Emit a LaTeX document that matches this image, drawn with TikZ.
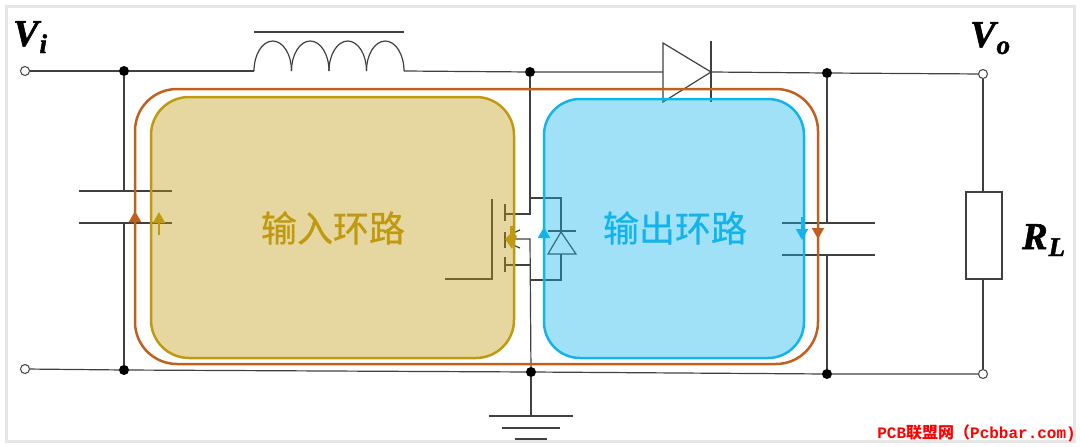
\documentclass[tikz,border=0pt]{standalone}
\usepackage{xcolor}
\usepackage{fontspec}
\setmainfont{Liberation Serif}[BoldItalicFeatures={FakeBold=1.6}]
\setmonofont{Liberation Mono}
\newfontfamily\cjk{Noto Sans CJK SC}
\newfontfamily\cjkbig{Noto Sans CJK SC}[FakeBold=0.7]
\usepackage{tikz}
\usetikzlibrary{arrows.meta}
\definecolor{wire}{HTML}{404040}
\definecolor{card}{HTML}{E6E6E6}
\definecolor{gold}{HTML}{BF9A10}
\definecolor{rust}{HTML}{C0601F}
\definecolor{sky}{HTML}{14B4EA}
\definecolor{mark}{HTML}{FF0000}
\tikzset{
  wireLine/.style={line width=1.2pt, draw=wire},
  term/.style={circle, draw=wire, fill=white, line width=1pt, minimum size=9pt, inner sep=0pt},
  dot/.style={circle, fill=black, minimum size=10pt, inner sep=0pt},
  volt/.style={font=\fontsize{38}{38}\selectfont\bfseries\itshape, text=black, inner sep=0pt},
  loopLab/.style={font=\fontsize{36}{36}\selectfont\cjkbig, inner sep=0pt},
  goldFill/.style={fill=gold, fill opacity=0.4, draw=gold, line width=2.5pt, rounded corners=38pt},
  skyFill/.style={fill=sky, fill opacity=0.4, draw=sky, line width=2.5pt, rounded corners=36pt},
  flow/.style={line width=2pt, -{Triangle[width=12pt,length=11pt]}}
}
\newcommand{\subtxt}[1]{\kern1pt\raisebox{-7pt}{\fontsize{27}{27}\selectfont #1}}
\begin{document}
\begin{tikzpicture}[x=1pt,y=-1pt]
  \useasboundingbox (0,0) rectangle (1080,447);
  % Card
  \draw[card, line width=3pt] (6,6) rectangle (1074,441);

  % Terminals and junctions
  \node[term] (vi) at (25,71) {};
  \node[term] (gi) at (25,369) {};
  \node[term] (vo) at (983,74) {};
  \node[term] (go) at (983,374) {};
  \node[dot] (jTa) at (124,71) {};
  \node[dot] (jTb) at (530,72) {};
  \node[dot] (jTc) at (827,73) {};
  \node[dot] (jBa) at (124,370) {};
  \node[dot] (jBb) at (531,372) {};
  \node[dot] (jBc) at (827,374) {};
  \coordinate (indL) at (254,71);
  \coordinate (indR) at (404,71);
  \coordinate (dioL) at (663,72);
  \coordinate (dioR) at (711,72);
  \coordinate (capLa) at (124,191);
  \coordinate (capLb) at (124,223);
  \coordinate (capRa) at (827,223);
  \coordinate (capRb) at (827,255);
  \coordinate (resT) at (983,192);
  \coordinate (resB) at (983,279);
  \coordinate (gnd) at (531,416);

  % Rails
  \draw[wireLine] (vi) -- (jTa) -- (indL);
  \draw[wireLine] (indR) -- (jTb) -- (dioL);
  \draw[wireLine] (dioR) -- (jTc) -- (vo);
  \draw[wireLine] (gi) -- (jBa) -- (jBb) -- (jBc) -- (go);
  \draw[wireLine] (jBb) -- (gnd);

  % Inductor
  \foreach \i in {0,...,3}
    \draw[wireLine] (254+37.5*\i,71) arc[start angle=180, end angle=360, x radius=18.75, y radius=30];
  \draw[wireLine] (254,32) -- (404,32);

  % Diode
  \draw[wireLine] (663,43) -- (711,72) -- (663,102) -- cycle;
  \draw[wireLine] (711,41) -- (711,102);

  % Input capacitor
  \draw[wireLine] (jTa) -- (capLa);
  \draw[wireLine] (capLb) -- (jBa);
  \draw[wireLine] (79,191) -- (172,191);
  \draw[wireLine] (79,223) -- (172,223);

  % Output capacitor
  \draw[wireLine] (jTc) -- (capRa);
  \draw[wireLine] (capRb) -- (jBc);
  \draw[wireLine] (782,223) -- (875,223);
  \draw[wireLine] (782,255) -- (875,255);

  % Load
  \draw[wireLine] (vo) -- (resT);
  \draw[wireLine] (resB) -- (go);
  \draw[wireLine, fill=white] (966,192) rectangle (1002,279);

  % Ground
  \draw[wireLine] (489,416) -- (573,416);
  \draw[wireLine] (502,428) -- (560,428);
  \draw[wireLine] (515,439) -- (547,439);

  % MOSFET
  \draw[wireLine] (445,279) -- (492,279) -- (492,199);
  \draw[wireLine] (505,204) -- (505,221);
  \draw[wireLine] (505,232) -- (505,248);
  \draw[wireLine] (505,257) -- (505,272);
  \draw[wireLine] (505,214) -- (530,214) -- (jTb);
  \draw[wireLine] (505,239) -- (530,239) -- (jBb);
  \draw[wireLine] (505,265) -- (530,265);
  \draw[wireLine] (520,230) -- (513,233);
  \draw[wireLine] (520,248) -- (513,245);

  % Body diode
  \draw[wireLine] (530,198) -- (561,198) -- (561,232);
  \draw[wireLine] (548,231) -- (576,231);
  \draw[wireLine] (561,232) -- (548,254) -- (576,254) -- cycle;
  \draw[wireLine] (561,254) -- (561,280) -- (531,280);

  % Loops
  \draw[draw=rust, line width=2.5pt, rounded corners=42pt] (135,89) rectangle (818,364);
  \draw[goldFill] (151,97) rectangle (514,358);
  \draw[skyFill] (544,99) rectangle (804,358);
  \node[loopLab, text=gold] (inLab) at (333,228) {输入环路};
  \node[loopLab, text=sky] (outLab) at (675,228) {输出环路};

  % Arrows
  \draw[flow, rust] (135,224) -- (135,211);
  \draw[flow, gold] (159,235) -- (159,212);
  \draw[flow, sky] (544,241) -- (544,227);
  \draw[flow, sky] (802,217) -- (802,240);
  \draw[flow, rust] (818,222) -- (818,239);
  \fill[gold] (505,239) -- (510,234) -- (510,226) -- (513,226) -- (514,234) -- (517,236) -- (512,249) -- cycle;

  % Labels
  \node[volt, anchor=base west] (viLab) at (13,46) {V\subtxt{i}};
  \node[volt, anchor=base west] (voLab) at (970,47) {V\subtxt{o}};
  \node[volt, anchor=base west] (rlLab) at (1022,249) {R\subtxt{L}};
  \node[anchor=base east, text=mark, inner sep=0pt, font=\fontsize{16}{16}\selectfont\ttfamily\bfseries] (pcb) at (1076,438) {PCB{\cjk\bfseries 联盟网（}Pcbbar.com)};
\end{tikzpicture}
\end{document}
